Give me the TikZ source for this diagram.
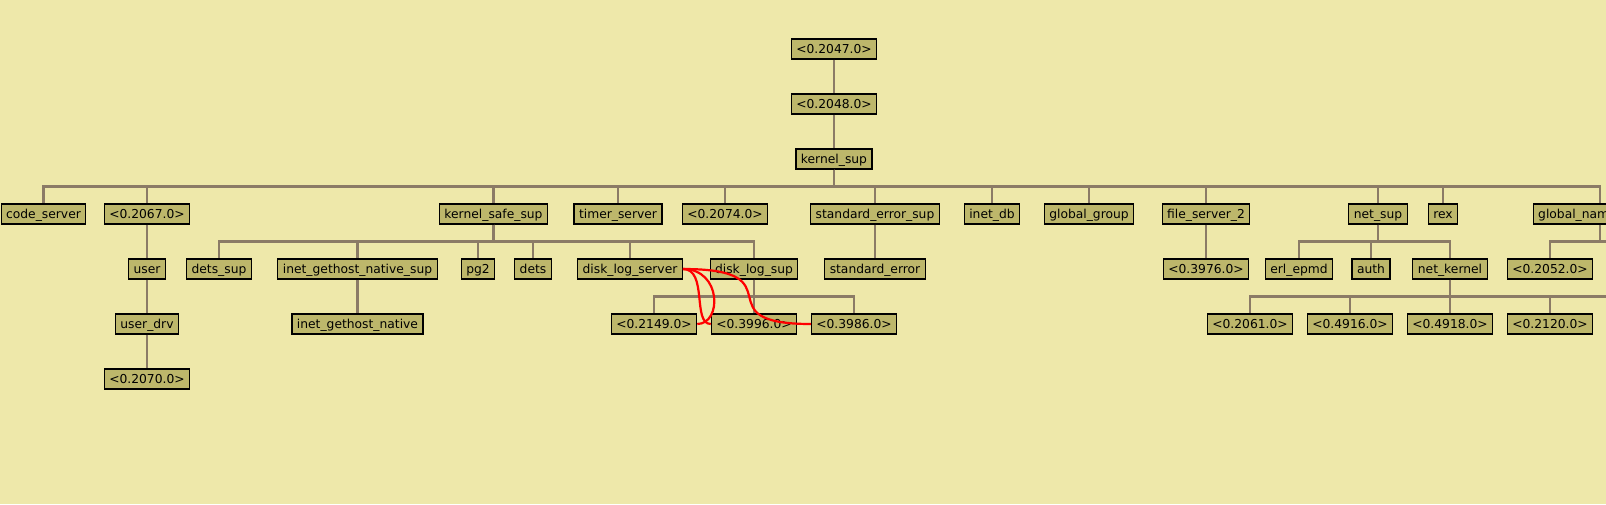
\documentclass[tikz,border=0pt]{standalone}
\usepackage{fontspec}
\setmainfont{DejaVu Sans}
\usetikzlibrary{calc}
\definecolor{bgkhaki}{RGB}{238,232,170}
\definecolor{boxkhaki}{RGB}{189,183,107}
\definecolor{wire}{RGB}{139,123,102}
\tikzset{
  proc/.style={draw=black, line width=1.1pt, fill=boxkhaki, font=\fontsize{12.3}{14}\selectfont,
    inner xsep=5pt, inner ysep=0pt, text height=9.5pt, text depth=1.5pt, minimum height=20pt},
  branch/.style={draw=wire, line width=2.2pt},
  link/.style={draw=red, line width=2.2pt},
}
\begin{document}
\begin{tikzpicture}[x=1pt, y=-1pt]
	\useasboundingbox (0,0) rectangle (1606,504);
	\fill [bgkhaki] (0,0) rectangle (1606,504);
	\clip (0,0) rectangle (1606,504);
	\node [proc] (p2047) at (834,49) {<0.2047.0>};
	\node [proc] (p2048) at (834,104) {<0.2048.0>};
	\node [proc] (kernelsup) at (834,159) {kernel\_sup};
	\node [proc] (codeserver) at (43.5,214) {code\_server};
	\node [proc] (p2067) at (147,214) {<0.2067.0>};
	\node [proc] (kernelsafesup) at (493.5,214) {kernel\_safe\_sup};
	\node [proc] (timerserver) at (618,214) {timer\_server};
	\node [proc] (p2074) at (725,214) {<0.2074.0>};
	\node [proc] (stderrsup) at (875,214) {standard\_error\_sup};
	\node [proc] (inetdb) at (992,214) {inet\_db};
	\node [proc] (globalgroup) at (1089,214) {global\_group};
	\node [proc] (fileserver) at (1206,214) {file\_server\_2};
	\node [proc] (netsup) at (1378,214) {net\_sup};
	\node [proc] (rex) at (1443,214) {rex};
	\node [proc] (globalname) at (1600,214) {global\_name\_server};
	\node [proc] (user) at (147,269) {user};
	\node [proc] (detssup) at (219,269) {dets\_sup};
	\node [proc] (inetsup) at (357.5,269) {inet\_gethost\_native\_sup};
	\node [proc] (pgtwo) at (478,269) {pg2};
	\node [proc] (dets) at (533,269) {dets};
	\node [proc] (disklogserver) at (630,269) {disk\_log\_server};
	\node [proc] (disklogsup) at (754,269) {disk\_log\_sup};
	\node [proc] (stderr) at (875,269) {standard\_error};
	\node [proc] (p3976) at (1206,269) {<0.3976.0>};
	\node [proc] (erlepmd) at (1299,269) {erl\_epmd};
	\node [proc] (auth) at (1371,269) {auth};
	\node [proc] (netkernel) at (1450,269) {net\_kernel};
	\node [proc] (p2052) at (1550,269) {<0.2052.0>};
	\node [proc] (userdrv) at (147,324) {user\_drv};
	\node [proc] (inetnative) at (357.5,324) {inet\_gethost\_native};
	\node [proc] (p2149) at (654,324) {<0.2149.0>};
	\node [proc] (p3996) at (754,324) {<0.3996.0>};
	\node [proc] (p3986) at (854,324) {<0.3986.0>};
	\node [proc] (p2061) at (1250,324) {<0.2061.0>};
	\node [proc] (p4916) at (1350,324) {<0.4916.0>};
	\node [proc] (p4918) at (1450,324) {<0.4918.0>};
	\node [proc] (p2120) at (1550,324) {<0.2120.0>};
	\node [proc] (p2070) at (147,379) {<0.2070.0>};
	\coordinate (gnsend) at (1620,250);
	\coordinate (nkend) at (1620,305);
	\draw [branch] (p2047.south) -- (p2048.north);
	\draw [branch] (p2048.south) -- (kernelsup.north);
	\foreach \kid in {codeserver,p2067,kernelsafesup,timerserver,p2074,stderrsup,inetdb,globalgroup,fileserver,netsup,rex,globalname}
		\draw [branch] (kernelsup.south) -- ++(0,17) -| (\kid.north);
	\draw [branch] (p2067.south) -- (user.north);
	\draw [branch] (user.south) -- (userdrv.north);
	\draw [branch] (userdrv.south) -- (p2070.north);
	\foreach \kid in {detssup,inetsup,pgtwo,dets,disklogserver,disklogsup}
		\draw [branch] (kernelsafesup.south) -- ++(0,17) -| (\kid.north);
	\draw [branch] (inetsup.south) -- (inetnative.north);
	\foreach \kid in {p2149,p3996,p3986}
		\draw [branch] (disklogsup.south) -- ++(0,17) -| (\kid.north);
	\draw [branch] (stderrsup.south) -- (stderr.north);
	\draw [branch] (fileserver.south) -- (p3976.north);
	\foreach \kid in {erlepmd,auth,netkernel}
		\draw [branch] (netsup.south) -- ++(0,17) -| (\kid.north);
	\draw [branch] (globalname.south) -- ++(0,17) -| (p2052.north);
	\draw [branch] (globalname.south) -- ++(0,17) -| (gnsend);
	\foreach \kid in {p2061,p4916,p4918,p2120}
		\draw [branch] (netkernel.south) -- ++(0,17) -| (\kid.north);
	\draw [branch] (netkernel.south) -- ++(0,17) -| (nkend);
	\draw [link] (disklogserver.east) .. controls (722,269) and (722,324) .. (p2149.east);
	\draw [link] (disklogserver.east) .. controls (708,269) and (692,324) .. (p3996.west);
	\draw [link] (disklogserver.east) .. controls (800,269) and (700,324) .. (p3986.west);
\end{tikzpicture}
\end{document}
